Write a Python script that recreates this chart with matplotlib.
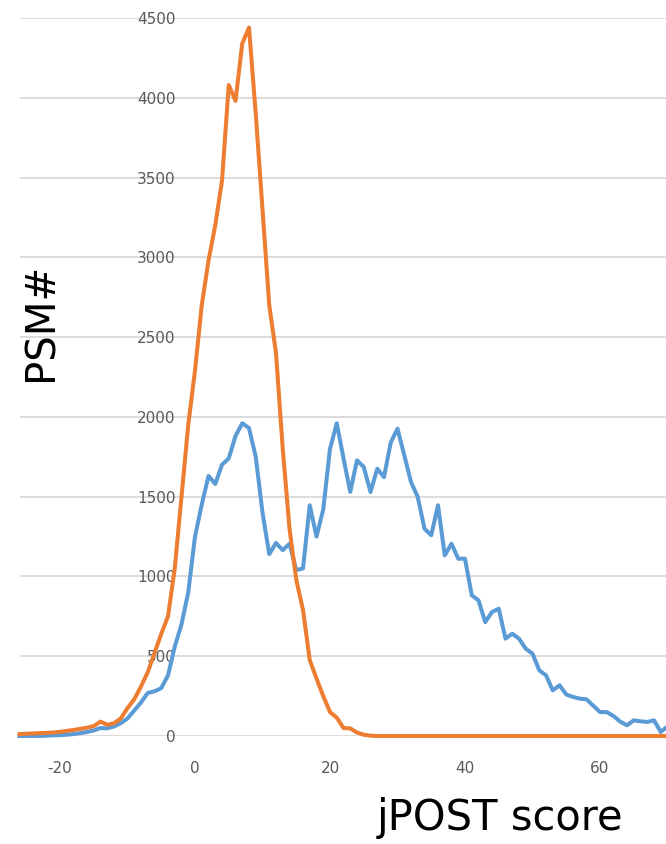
import numpy as np
import matplotlib.pyplot as plt

plt.rcParams['axes.unicode_minus'] = False

# jPOST score bins (-26 .. 70)
score = np.arange(-26, 71)

psm_target = [
    0, 0, 0, 0, 2, 4, 5, 8, 12, 18,                     # -26 .. -17
    25, 35, 50, 48, 60, 80, 110, 160, 210, 270,         # -16 .. -7
    280, 300, 380, 560, 700, 900, 1250, 1450, 1630, 1580,  # -6 .. 3
    1700, 1740, 1880, 1960, 1930, 1750, 1400, 1140, 1210, 1165,  # 4 .. 13
    1205, 1040, 1050, 1446, 1250, 1420, 1800, 1960, 1740, 1530,  # 14 .. 23
    1728, 1686, 1529, 1675, 1623, 1840, 1926, 1760, 1592, 1498,  # 24 .. 33
    1299, 1258, 1446, 1132, 1205, 1111, 1111, 882, 850, 714,     # 34 .. 43
    777, 798, 610, 641, 610, 547, 516, 412, 380, 286,            # 44 .. 53
    318, 260, 245, 234, 230, 190, 150, 150, 125, 90,             # 54 .. 63
    67, 98, 92, 88, 98, 25, 60,                                  # 64 .. 70
]

psm_decoy = [
    12, 14, 16, 18, 20, 22, 26, 32, 38, 45,             # -26 .. -17
    52, 62, 90, 70, 80, 110, 175, 230, 310, 400,        # -16 .. -7
    520, 640, 750, 1050, 1500, 1950, 2290, 2700, 2980, 3200,  # -6 .. 3
    3480, 4080, 3980, 4340, 4440, 3900, 3300, 2700, 2400, 1800,  # 4 .. 13
    1300, 980, 790, 476, 360, 250, 150, 115, 50, 48,            # 14 .. 23
    22, 8, 2,                                                    # 24 .. 26
] + [0] * 44

yticks = [0, 500, 1000, 1500, 2000, 2500, 3000, 3500, 4000, 4500]
xticks = [-20, 0, 20, 40, 60]

W, H = 666, 844
fig = plt.figure(figsize=(W / 100, H / 100), dpi=100)
ax = fig.add_axes([19.5 / W, 1 - 736 / H, 648 / W, 718 / H])

ax.plot(score, psm_target, color='#5B9BD5', linewidth=2.9, clip_on=False, zorder=3,
        solid_joinstyle='round')
ax.plot(score, psm_decoy, color='#ED7D31', linewidth=2.9, clip_on=False, zorder=4,
        solid_joinstyle='round')

ax.set_xlim(-26, 70)
ax.set_ylim(0, 4500)
ax.set_yticks(yticks)
ax.set_xticks(xticks)

ax.grid(axis='y', color='#D9D9D9', linewidth=1.3)
ax.set_axisbelow(True)
for s in ['top', 'right', 'bottom']:
    ax.spines[s].set_visible(False)
ax.spines['left'].set_position(('data', 0))
ax.spines['left'].set_visible(False)

ax.tick_params(axis='both', length=0, labelsize=11, labelcolor='#595959')
ax.tick_params(axis='y', pad=14)
ax.tick_params(axis='x', pad=18)

fig.text(42 / W, 1 - 322 / H, 'PSM#', rotation=90, fontsize=29,
         ha='center', va='center', color='black')
fig.text(500 / W, 1 - 818 / H, 'jPOST score', fontsize=30,
         ha='center', va='center', color='black')

fig.savefig('out.png', dpi=100)
